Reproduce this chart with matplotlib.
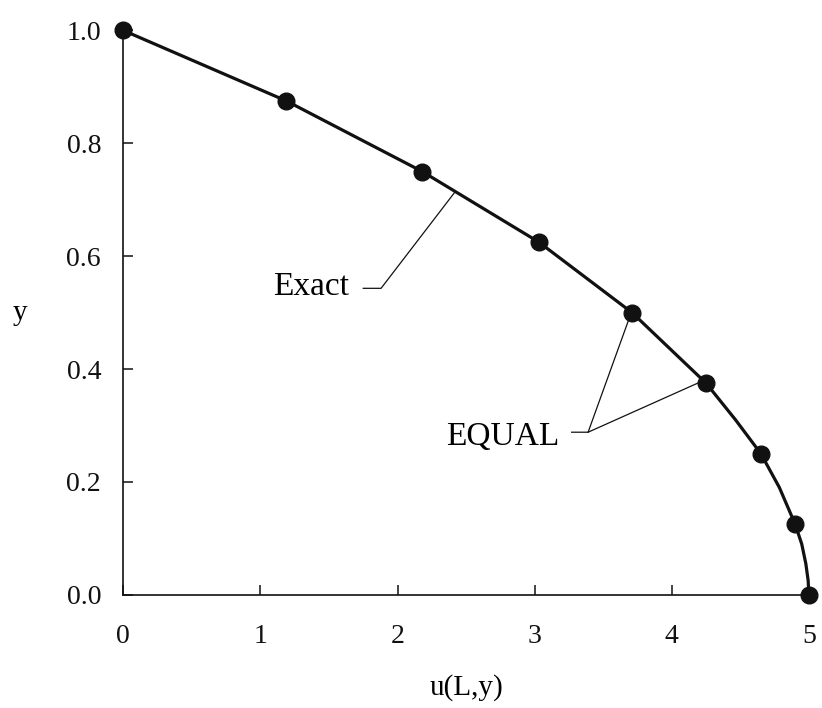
#!/usr/bin/env python3
"""Exact solution u(L,y) against the EQUAL points."""

import matplotlib

matplotlib.use("Agg")
import matplotlib.pyplot as plt

# values
equal_y = [1.0, 0.875, 0.75, 0.625, 0.5, 0.375, 0.25, 0.125, 0.0]
equal_u = [0.0, 1.19, 2.18, 3.03, 3.71, 4.25, 4.65, 4.90, 5.0]

exact_y = [1.0, 0.875, 0.75, 0.625, 0.5, 0.375, 0.31, 0.25, 0.19,
           0.125, 0.09, 0.055, 0.025, 0.0]
exact_u = [0.0, 1.19, 2.18, 3.03, 3.71, 4.25, 4.465, 4.65, 4.785,
           4.90, 4.948, 4.978, 4.995, 5.0]

x_ticks = [0, 1, 2, 3, 4, 5]
y_ticks = [0.0, 0.2, 0.4, 0.6, 0.8, 1.0]

BLACK = "#111111"


def main() -> None:
    plt.rcParams.update({
        "font.family": ["Liberation Serif", "DejaVu Serif"],
        "font.size": 20,
    })

    fig = plt.figure(figsize=(8.22, 7.08), dpi=100)
    ax = fig.add_axes([0.150, 0.160, 0.834, 0.797])

    ax.plot(exact_u, exact_y, color=BLACK, linewidth=2.3, clip_on=False,
            zorder=2)
    ax.plot(equal_u, equal_y, "o", color=BLACK, markersize=12,
            clip_on=False, zorder=3)

    ax.set_xlim(0, 5)
    ax.set_ylim(0, 1)
    ax.set_xticks(x_ticks, [str(t) for t in x_ticks])
    ax.set_yticks(y_ticks, [f"{t:.1f}" for t in y_ticks])
    ax.tick_params(direction="in", length=7, width=1.1, colors=BLACK)
    ax.tick_params(axis="x", pad=21)
    ax.tick_params(axis="y", pad=16)
    for side in ("top", "right"):
        ax.spines[side].set_visible(False)
    for side in ("left", "bottom"):
        ax.spines[side].set_linewidth(1.2)
        ax.spines[side].set_color(BLACK)

    ax.set_xlabel("u(L,y)", fontsize=21)
    ax.xaxis.set_label_coords(0.5, -0.165)
    ax.xaxis.label.set_va("center")
    ax.set_ylabel("y", fontsize=21, rotation=0)
    ax.yaxis.set_label_coords(-0.15, 0.5)
    ax.yaxis.label.set_va("center")

    # leader for the exact curve
    ax.plot([1.75, 1.88, 2.42], [0.543, 0.543, 0.714], color=BLACK,
            linewidth=0.9)
    ax.text(1.37, 0.546, "Exact", fontsize=24, ha="center", va="center")

    # leaders for the EQUAL points
    ax.plot([3.27, 3.39, 3.69], [0.288, 0.288, 0.49], color=BLACK,
            linewidth=0.9)
    ax.plot([3.39, 4.19], [0.288, 0.375], color=BLACK, linewidth=0.9)
    ax.text(2.77, 0.28, "EQUAL", fontsize=24, ha="center", va="center")

    fig.savefig("out.png", dpi=100)
    plt.close(fig)


if __name__ == "__main__":
    main()
